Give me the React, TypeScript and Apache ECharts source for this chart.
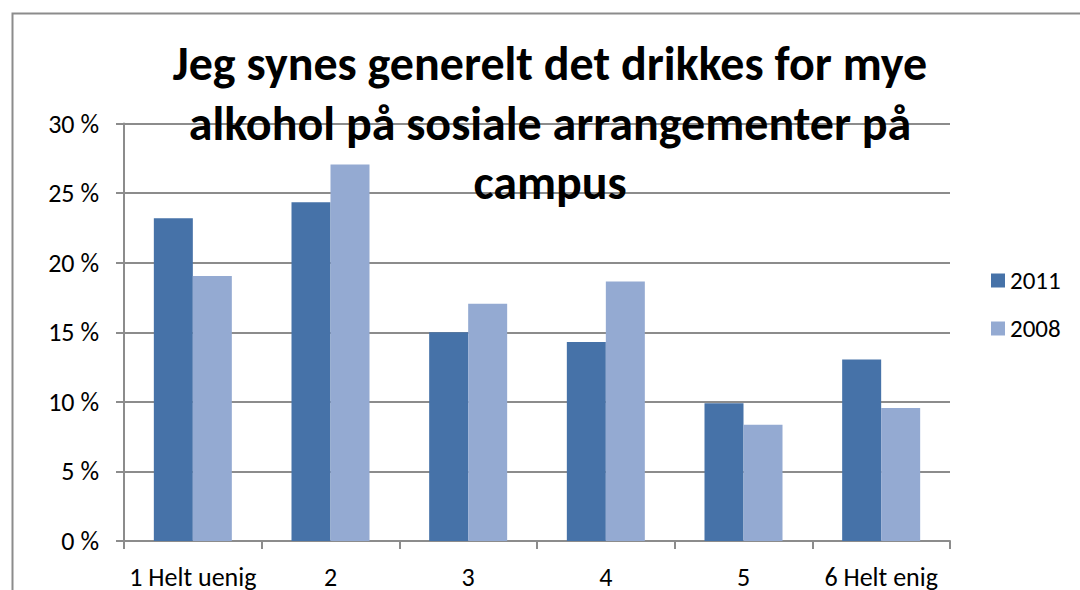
import React, { useEffect, useRef } from "react";
import * as echarts from "echarts";

const categories = ["1 Helt uenig", "2", "3", "4", "5", "6 Helt enig"];
const values2011 = [23.2, 24.35, 15.0, 14.3, 9.9, 13.05];
const values2008 = [19.05, 27.05, 17.05, 18.65, 8.35, 9.55];
const yTicks = { min: 0, max: 30, interval: 5 };
const titleText = "Jeg synes generelt det drikkes for mye\nalkohol på sosiale arrangementer på\ncampus";

const FONT = "Carlito, Lato, 'Open Sans', sans-serif";

export default function App() {
  const ref = useRef<HTMLDivElement>(null);
  useEffect(() => {
    document.body.style.margin = "0";
    const chart = echarts.init(ref.current!, undefined, { renderer: "svg" });
    chart.setOption({
      animation: false,
      backgroundColor: "#ffffff",
      textStyle: { fontFamily: FONT },
      graphic: [
        {
          type: "rect",
          shape: { x: 12.5, y: 13.5, width: 1100, height: 620 },
          style: { fill: "none", stroke: "#8c8c8c", lineWidth: 2 },
          silent: true,
          z: -1,
        },
      ],
      title: {
        text: titleText,
        left: 550,
        top: 34,
        padding: 0,
        textAlign: "center",
        textStyle: {
          fontFamily: FONT,
          fontSize: 48,
          fontWeight: "bold",
          color: "#000",
          lineHeight: 59.5,
        },
        z: 10,
      },
      legend: {
        orient: "vertical",
        left: 991,
        top: 268,
        padding: 0,
        itemWidth: 14,
        itemHeight: 14,
        itemGap: 23,
        icon: "rect",
        textStyle: { fontFamily: FONT, fontSize: 25, color: "#000" },
        data: ["2011", "2008"],
      },
      grid: { left: 124, right: 130, top: 123.5, bottom: 47.7 },
      xAxis: {
        type: "category",
        data: categories,
        axisLine: { show: true, lineStyle: { color: "#8c8c8c", width: 2 } },
        axisTick: { show: true, length: 8, lineStyle: { color: "#8c8c8c", width: 2 } },
        axisLabel: { fontFamily: FONT, fontSize: 26, color: "#000", margin: 23, interval: 0 },
      },
      yAxis: {
        type: "value",
        min: yTicks.min,
        max: yTicks.max,
        interval: yTicks.interval,
        axisLine: { show: true, lineStyle: { color: "#8c8c8c", width: 2 } },
        axisTick: { show: true, length: 8, lineStyle: { color: "#8c8c8c", width: 2 } },
        splitLine: { show: true, lineStyle: { color: "#8c8c8c", width: 2 } },
        axisLabel: {
          fontFamily: FONT,
          fontSize: 26,
          color: "#000",
          margin: 25,
          formatter: (v: number) => `${v} %`,
        },
      },
      series: [
        {
          name: "2011",
          type: "bar",
          data: values2011,
          barWidth: 39,
          barGap: "0%",
          itemStyle: { color: "#4672A8" },
        },
        {
          name: "2008",
          type: "bar",
          data: values2008,
          barWidth: 39,
          itemStyle: { color: "#94AAD2" },
        },
      ],
    });
    return () => chart.dispose();
  }, []);
  return <div ref={ref} style={{ width: 1080, height: 590 }} />;
}
